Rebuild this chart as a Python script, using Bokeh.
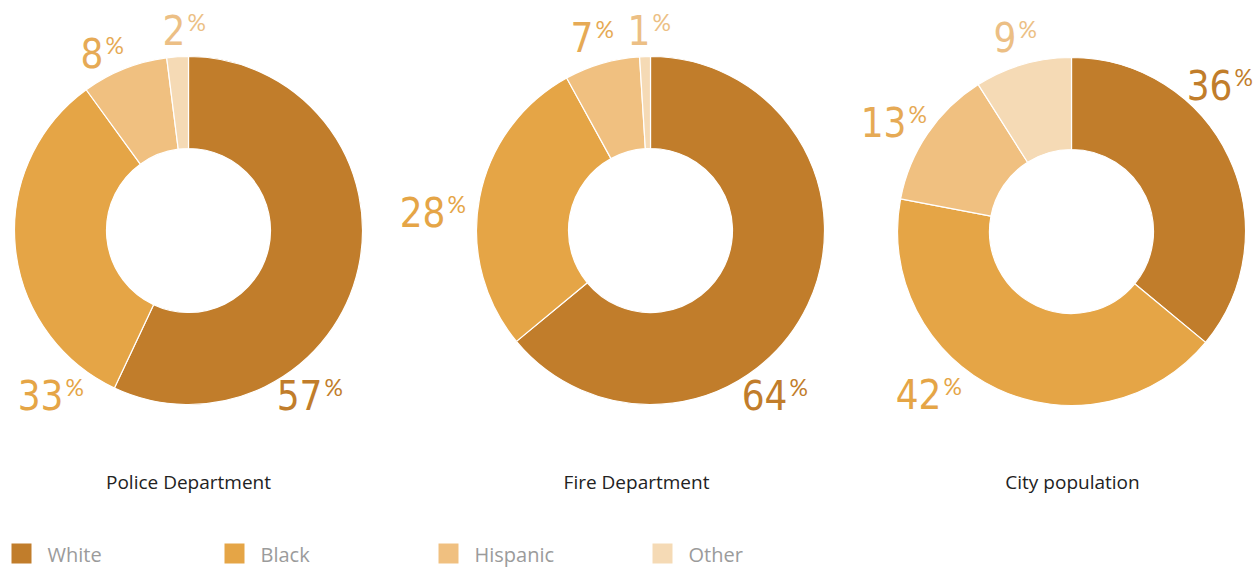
import math
from bokeh.plotting import figure
from bokeh.models import Range1d, ColumnDataSource
from bokeh.core.properties import value
from bokeh.embed import file_html
from bokeh.resources import INLINE

# ---- data ----
categories = ["White", "Black", "Hispanic", "Other"]
police = [57, 33, 8, 2]
fire = [64, 28, 7, 1]
city = [36, 42, 13, 9]
titles = ["Police Department", "Fire Department", "City population"]

# ---- style ----
slice_colors = ["#C17D2B", "#E5A546", "#F0C080", "#F5DAB5"]
label_colors = ["#C17D2B", "#E5A546", "#E6AA55", "#ECBF85"]
NUM_FONT = "'DejaVu Sans Condensed', 'Roboto'"
PCT_FONT = "Lato"
TXT_FONT = "Open Sans"

W, H = 1256, 567
PAGE_H = 567

def py(y):
    return PAGE_H - y

p = figure(width=W, height=H, output_backend="svg", toolbar_location=None,
           x_range=Range1d(0, W), y_range=Range1d(0, H),
           min_border=0, outline_line_color=None)
p.axis.visible = False
p.grid.visible = False
p.background_fill_color = "white"
p.border_fill_color = "white"

centers = [(188, 230), (650, 230), (1071, 231)]
title_x = [188, 636, 1072]
R_OUT, R_IN = 174, 82
# label anchor offsets (junction of number and %, top of digits) relative to centre
label_offsets = [
    [(135, 148), (-124, 148), (-84, -194), (-2, -217)],
    [(138, 148), (-204, -35), (-56, -210), (1, -217)],
    [(162, -163), (-129, 146), (-164, -126), (-54, -211)],
]

for series, (cx, cy), offs, title, tx in zip([police, fire, city], centers, label_offsets, titles, title_x):
    total = sum(series)
    cum = 0
    starts, ends = [], []
    for v in series:
        starts.append(math.pi / 2 - 2 * math.pi * cum / total)
        cum += v
        ends.append(math.pi / 2 - 2 * math.pi * cum / total)
    src = ColumnDataSource(dict(x=[cx] * 4, y=[py(cy)] * 4, s=starts, e=ends,
                                c=slice_colors))
    p.annular_wedge(x="x", y="y", inner_radius=R_IN, outer_radius=R_OUT,
                    start_angle="s", end_angle="e", direction="clock",
                    fill_color="c", line_color="white", line_width=1.2, source=src)
    nx, ny, nt, px_, py_, lc = [], [], [], [], [], []
    for v, (dx, dy), col in zip(series, offs, label_colors):
        ax, ay = cx + dx, cy + dy
        nx.append(ax - 1); ny.append(py(ay + 16)); nt.append(str(v))
        px_.append(ax + 1); py_.append(py(ay + 8)); lc.append(col)
    p.text(x=nx, y=ny, text=nt, text_color=lc, text_font=value(NUM_FONT),
           text_font_size="40px", text_align="right", text_baseline="alphabetic")
    p.text(x=px_, y=py_, text=["%"] * 4, text_color=lc, text_font=value(PCT_FONT),
           text_font_size="23px", text_font_style="normal",
           text_align="left", text_baseline="alphabetic")
    p.text(x=[tx], y=[py(481)], text=[title], text_color="#222222",
           text_font=value(TXT_FONT), text_font_size="19px",
           text_align="center", text_baseline="middle")

# legend
leg_x = [11, 224, 438, 652]
for lx, cat, col in zip(leg_x, categories, slice_colors):
    p.rect(x=[lx + 10], y=[py(553)], width=20, height=20, fill_color=col, line_color=None)
    p.text(x=[lx + 36], y=[py(554)], text=[cat], text_color="#9B9B9B",
           text_font=value(TXT_FONT), text_font_size="20px",
           text_align="left", text_baseline="middle")

open("out.html", "w").write(file_html(p, INLINE))
